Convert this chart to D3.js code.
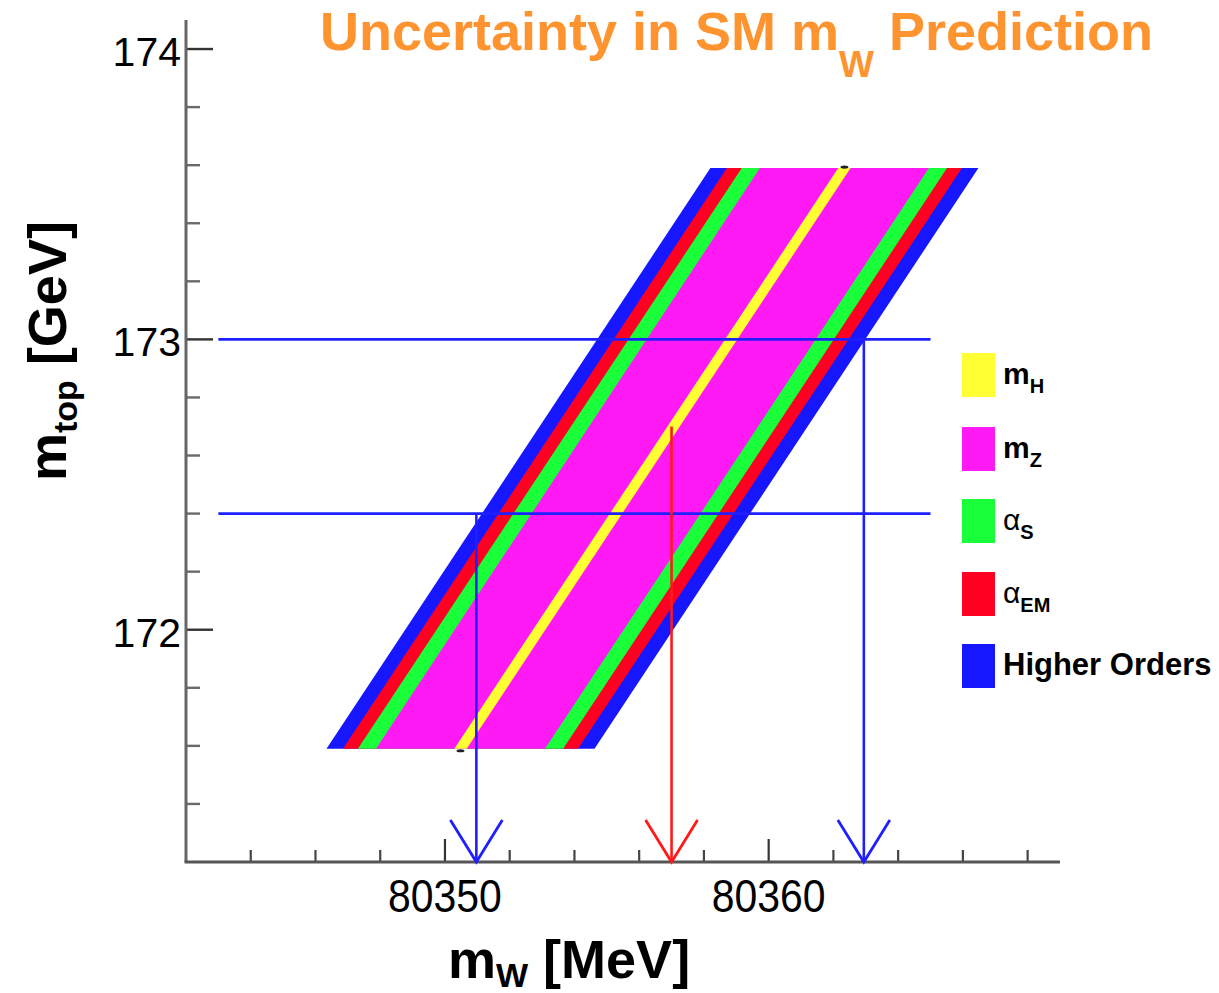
<!DOCTYPE html>
<html>
<head>
<meta charset="utf-8">
<script src="https://cdn.jsdelivr.net/npm/d3@7"></script>
<style>
  html, body { margin: 0; padding: 0; background: #fff; }
  svg { display: block; font-family: "Liberation Sans", Arial, Helvetica, sans-serif; }
</style>
</head>
<body>
<svg id="chart" width="1219" height="993"></svg>
<script>
// ---------------- data ----------------
const xDomain = [80342, 80369];            // m_W [MeV]
const yDomain = [171.2, 174.1];            // m_top [GeV]
const xMajorTicks = [80350, 80360];
const xTickLabels = ["80350", "80360"];
const xMinorTicks = [80344, 80346, 80348, 80352, 80354, 80356, 80358, 80362, 80364, 80366, 80368];
const yMajorTicks = [172, 173, 174];
const yTickLabels = ["172", "173", "174"];
const yMinorTicks = [171.4, 171.6, 171.8, 172.2, 172.4, 172.6, 172.8, 173.2, 173.4, 173.6, 173.8];

// SM prediction band: central line end points
const centerMt = [171.59, 173.59];
const centerMw = [80350.48, 80362.34];
// cumulative half-widths (MeV) of each uncertainty component, inner -> outer
const bandNames = ["m_H", "m_Z", "α_S", "α_EM", "Higher Orders"];
const bandHalfWidth = [0.19, 2.61, 3.17, 3.63, 4.14];
const bandColors = ["#ffff33", "#ff19f5", "#19ff3a", "#ff0022", "#1717ff"];

// horizontal m_top lines
const hLineMt = [173.0, 172.4];
const hLineFrom = [80343.0, 80343.0];
const hLineTo = [80365.0, 80365.0];

// arrows down to the m_W axis
const arrowMw = [80350.97, 80357.0, 80362.94];
const arrowMtTop = [172.4, 172.7, 173.0];
const arrowColors = ["#1f1fff", "#ff1a1a", "#1f1fff"];

// legend entries (main symbol, subscript, symbol is greek)
const legendMain = ["m", "m", "α", "α", "Higher Orders"];
const legendSub = ["H", "Z", "S", "EM", ""];
const legendGreek = [false, false, true, true, false];
const legendColors = ["#ffff33", "#ff19f5", "#19ff3a", "#ff0022", "#1717ff"];

// ---------------- drawing ----------------
const svg = d3.select("#chart");
const x = d3.scaleLinear().domain(xDomain).range([186, 1060]);
const y = d3.scaleLinear().domain(yDomain).range([862, 20]);

// bands (outermost first)
const line = d3.line().x(d => x(d[0])).y(d => y(d[1]));
const bands = svg.append("g");
for (let i = bandHalfWidth.length - 1; i >= 0; i--) {
  const hw = bandHalfWidth[i];
  const pts = [
    [centerMw[0] - hw, centerMt[0]],
    [centerMw[0] + hw, centerMt[0]],
    [centerMw[1] + hw, centerMt[1]],
    [centerMw[1] - hw, centerMt[1]]
  ];
  bands.append("path")
    .attr("d", line(pts) + "Z")
    .attr("fill", bandColors[i]);
}
// tiny end markers of central line
svg.append("g").selectAll("ellipse").data([0, 1]).join("ellipse")
  .attr("cx", i => x(centerMw[i]))
  .attr("cy", i => y(centerMt[i]) + (i === 0 ? 2 : -1))
  .attr("rx", 4).attr("ry", 1.6)
  .attr("fill", "#222");

// horizontal lines
svg.append("g").selectAll("line").data(hLineMt).join("line")
  .attr("x1", (d, i) => x(hLineFrom[i]))
  .attr("x2", (d, i) => x(hLineTo[i]))
  .attr("y1", d => y(d)).attr("y2", d => y(d))
  .attr("stroke", "#1f1fff").attr("stroke-width", 2.6);

// axes
const axisColor = "#555";
const ax = svg.append("g");
// minor ticks
ax.selectAll(".ymin").data(yMinorTicks).join("line")
  .attr("x1", x(xDomain[0])).attr("x2", x(xDomain[0]) + 14)
  .attr("y1", d => y(d)).attr("y2", d => y(d))
  .attr("stroke", "#6a6a6a").attr("stroke-width", 2.4);
ax.selectAll(".ymaj").data(yMajorTicks).join("line")
  .attr("x1", x(xDomain[0])).attr("x2", x(xDomain[0]) + 27)
  .attr("y1", d => y(d)).attr("y2", d => y(d))
  .attr("stroke", "#333").attr("stroke-width", 2.4);
ax.selectAll(".xmin").data(xMinorTicks).join("line")
  .attr("x1", d => x(d)).attr("x2", d => x(d))
  .attr("y1", y(yDomain[0])).attr("y2", y(yDomain[0]) - 12)
  .attr("stroke", "#444").attr("stroke-width", 2.2);
ax.selectAll(".xmaj").data(xMajorTicks).join("line")
  .attr("x1", d => x(d)).attr("x2", d => x(d))
  .attr("y1", y(yDomain[0])).attr("y2", y(yDomain[0]) - 23)
  .attr("stroke", "#333").attr("stroke-width", 2.2);
// axis lines
ax.append("line")
  .attr("x1", x(xDomain[0])).attr("x2", x(xDomain[0]))
  .attr("y1", y(yDomain[1])).attr("y2", y(yDomain[0]))
  .attr("stroke", "#666").attr("stroke-width", 3);
ax.append("line")
  .attr("x1", x(xDomain[0]) - 1.5).attr("x2", x(xDomain[1]))
  .attr("y1", y(yDomain[0])).attr("y2", y(yDomain[0]))
  .attr("stroke", axisColor).attr("stroke-width", 3);

// tick labels
ax.selectAll(".ylab").data(yMajorTicks).join("text")
  .attr("x", x(xDomain[0]) - 5)
  .attr("y", d => y(d) + 17)
  .attr("text-anchor", "end")
  .attr("font-size", 41)
  .attr("fill", "#000")
  .text((d, i) => yTickLabels[i]);
ax.selectAll(".xlab").data(xMajorTicks).join("text")
  .attr("transform", d => `translate(${x(d)},912) scale(0.87,1)`)
  .attr("text-anchor", "middle")
  .attr("font-size", 47)
  .attr("fill", "#000")
  .text((d, i) => xTickLabels[i]);

// arrows
const arr = svg.append("g");
arrowMw.forEach((mw, i) => {
  const xx = x(mw), yTip = y(yDomain[0]);
  arr.append("line")
    .attr("x1", xx).attr("x2", xx)
    .attr("y1", y(arrowMtTop[i])).attr("y2", yTip)
    .attr("stroke", arrowColors[i]).attr("stroke-width", 2.6);
  arr.append("path")
    .attr("d", `M${xx - 26},${yTip - 42}L${xx},${yTip}L${xx + 26},${yTip - 42}`)
    .attr("fill", "none")
    .attr("stroke", arrowColors[i]).attr("stroke-width", 2.8)
    .attr("stroke-linejoin", "miter");
});

// axis titles
const xt = svg.append("text")
  .attr("x", 448).attr("y", 978)
  .attr("font-size", 54).attr("font-weight", "bold").attr("fill", "#000");
xt.append("tspan").text("m");
xt.append("tspan").attr("font-size", 34).attr("dy", 9).text("W");
xt.append("tspan").attr("dy", -9).text(" [MeV]");

const yt = svg.append("text")
  .attr("transform", "translate(66,481) rotate(-90)")
  .attr("font-size", 54).attr("font-weight", "bold").attr("fill", "#000");
yt.append("tspan").text("m");
yt.append("tspan").attr("font-size", 34).attr("dy", 11).text("top");
yt.append("tspan").attr("dy", -11).text(" [GeV]");

// title
const tt = svg.append("text")
  .attr("x", 320).attr("y", 50)
  .attr("font-size", 54).attr("font-weight", "bold").attr("fill", "#fd9430");
tt.append("tspan").text("Uncertainty in SM m");
tt.append("tspan").attr("font-size", 37).attr("dy", 27).text("W");
tt.append("tspan").attr("dy", -27).text(" Prediction");

// legend
const lg = svg.append("g");
const legendY = [375, 449, 521, 594, 666];
legendMain.forEach((m, i) => {
  lg.append("rect")
    .attr("x", 962).attr("y", legendY[i] - 22)
    .attr("width", 33).attr("height", 44)
    .attr("fill", legendColors[i]);
  const t = lg.append("text")
    .attr("x", 1003).attr("y", legendY[i] + 9)
    .attr("font-size", legendSub[i] ? 30 : 31)
    .attr("font-weight", legendGreek[i] ? "normal" : "bold")
    .attr("fill", "#000");
  t.append("tspan").text(m);
  if (legendSub[i]) {
    t.append("tspan").attr("font-size", 20).attr("font-weight", "bold")
      .attr("dy", 9).text(legendSub[i]);
  }
});
</script>
</body>
</html>
